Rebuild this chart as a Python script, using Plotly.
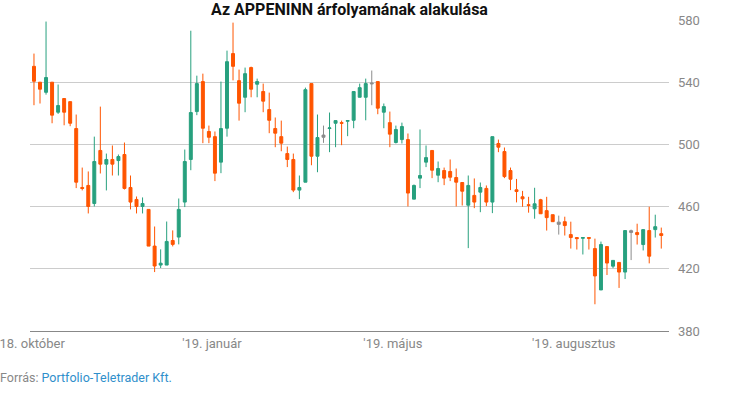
import plotly.graph_objects as go

# Candle data (one candle per period, in order)
open_ = [550.2, 540.0, 533.5, 540.0, 520.7, 529.5, 527.5, 510.2, 472.3, 473.6,
         462.0, 496.1, 487.3, 490.3, 489.6, 493.5, 472.3, 464.6, 460.1, 458.2,
         434.6, 422.4, 422.4, 438.2, 440.4, 462.9, 490.3, 521.1, 540.4, 508.3,
         505.0, 488.6, 510.4, 558.4, 541.0, 530.3, 549.4, 538.7, 534.0, 522.4,
         510.2, 505.0, 494.1, 490.3, 470.6, 475.7, 539.1, 492.4, 506.0, 510.2,
         513.6, 514.0, 514.9, 515.5, 530.3, 530.3, 539.5, 540.4, 520.7, 514.0,
         501.2, 503.1, 503.1, 464.8, 478.3, 488.6, 496.1, 480.2, 483.2, 482.6,
         478.7, 475.5, 460.9, 467.2, 469.3, 471.7, 462.9, 500.6, 495.4, 483.2,
         470.8, 466.3, 461.2, 458.6, 464.4, 457.4, 454.8, 450.0, 450.3, 442.0,
         440.1, 439.6, 440.1, 433.0, 406.4, 434.3, 421.7, 424.1, 417.9, 444.5,
         443.3, 435.6, 444.6, 445.2, 442.6]
high = [558.4, 540.0, 579.0, 540.0, 538.5, 529.5, 527.5, 519.2, 485.1, 482.6,
        505.0, 524.3, 494.1, 499.3, 493.5, 501.2, 480.0, 466.5, 465.9, 458.2,
        447.2, 432.5, 450.4, 444.7, 465.2, 496.7, 573.1, 544.2, 545.5, 512.1,
        508.3, 540.4, 560.3, 578.3, 548.1, 549.4, 550.0, 542.3, 539.1, 533.3,
        517.3, 515.3, 498.6, 494.1, 480.0, 536.5, 539.1, 519.2, 512.1, 520.5,
        515.3, 515.3, 515.3, 534.0, 539.1, 542.3, 547.5, 540.4, 526.3, 521.1,
        512.1, 514.0, 507.0, 474.2, 509.6, 499.3, 496.1, 489.0, 485.1, 490.3,
        484.5, 475.5, 480.0, 478.1, 475.5, 473.6, 505.0, 503.1, 498.0, 485.1,
        477.8, 470.1, 466.3, 472.1, 465.0, 466.3, 454.8, 454.2, 453.5, 450.3,
        440.1, 440.1, 440.1, 439.4, 437.5, 434.3, 425.4, 424.1, 444.6, 445.2,
        449.0, 445.2, 459.9, 454.8, 446.5]
low = [525.2, 526.3, 532.0, 513.6, 519.6, 512.3, 511.7, 471.9, 470.4, 455.6,
       460.1, 481.3, 470.4, 480.0, 480.0, 471.0, 458.2, 455.6, 455.6, 434.6,
       417.9, 420.5, 422.4, 434.4, 435.7, 459.7, 483.4, 518.8, 500.8, 500.8,
       476.4, 481.5, 505.0, 541.2, 515.3, 520.7, 530.3, 530.3, 520.7, 507.2,
       498.2, 495.6, 485.4, 469.3, 464.8, 475.7, 486.6, 482.1, 501.0, 495.0,
       498.2, 499.5, 505.3, 510.4, 530.3, 515.5, 525.2, 519.4, 510.4, 498.2,
       500.6, 500.6, 460.1, 464.8, 471.9, 485.4, 478.3, 475.7, 473.8, 476.4,
       460.1, 460.7, 433.3, 459.0, 456.4, 460.3, 455.8, 495.0, 478.3, 470.6,
       462.7, 459.9, 456.1, 452.2, 455.4, 444.6, 450.3, 442.0, 441.4, 433.0,
       432.4, 429.2, 432.4, 397.2, 406.4, 416.0, 420.4, 407.7, 413.4, 425.6,
       435.6, 431.8, 423.5, 440.1, 433.0]
close = [540.6, 535.5, 543.0, 518.8, 525.0, 520.7, 513.6, 475.7, 471.7, 460.1,
         489.0, 487.3, 490.3, 487.3, 492.2, 471.7, 462.9, 460.1, 462.0, 434.6,
         421.8, 423.6, 437.6, 435.7, 458.2, 489.0, 520.5, 539.1, 510.4, 504.6,
         481.5, 510.2, 553.2, 550.2, 526.5, 545.5, 535.5, 540.4, 527.8, 515.5,
         507.2, 500.8, 490.3, 470.6, 472.3, 535.2, 492.4, 504.4, 504.6, 510.6,
         515.3, 513.6, 515.3, 534.0, 536.5, 539.1, 539.0, 523.3, 524.3, 506.6,
         509.6, 511.5, 468.7, 473.6, 480.0, 491.5, 483.4, 484.5, 478.3, 478.9,
         475.7, 469.9, 473.6, 462.9, 472.3, 462.9, 505.0, 498.2, 479.3, 477.6,
         469.7, 465.0, 460.8, 461.8, 455.4, 452.9, 450.3, 448.6, 447.8, 440.1,
         439.4, 440.1, 439.6, 415.4, 435.6, 423.7, 425.4, 417.9, 444.6, 443.4,
         442.0, 445.2, 428.1, 447.1, 441.4]
# candles drawn in grey (unchanged)
neutral = [48, 56, 87, 99]

tick_pos = [-0.3, 29.5, 59.5, 89.5]
tick_text = ["18. október", "'19. január", "'19. május", "'19. augusztus"]
y_ticks = [380, 420, 460, 500, 540, 580]

GREEN = "#27a07e"
ORANGE = "#ff5500"
GREY = "#8c8c8c"

idx = list(range(len(open_)))
main = [i for i in idx if i not in neutral]

def pick(arr, ids):
    return [arr[i] for i in ids]

fig = go.Figure()
fig.add_trace(go.Candlestick(
    x=main, open=pick(open_, main), high=pick(high, main),
    low=pick(low, main), close=pick(close, main),
    increasing=dict(line=dict(color=GREEN, width=1), fillcolor=GREEN),
    decreasing=dict(line=dict(color=ORANGE, width=1), fillcolor=ORANGE),
    whiskerwidth=0, showlegend=False))
fig.add_trace(go.Candlestick(
    x=neutral, open=pick(open_, neutral), high=pick(high, neutral),
    low=pick(low, neutral), close=pick(close, neutral),
    increasing=dict(line=dict(color=GREY, width=1), fillcolor=GREY),
    decreasing=dict(line=dict(color=GREY, width=1), fillcolor=GREY),
    whiskerwidth=0, showlegend=False))

fig.update_layout(
    width=730, height=410,
    margin=dict(l=30, r=61, t=20, b=79),
    paper_bgcolor="white", plot_bgcolor="white",
    font=dict(family="Roboto", color="#888888", size=13),
    title=dict(text="<b>Az APPENINN árfolyamának alakulása</b>",
               font=dict(family="Roboto", size=16, color="#111111"),
               x=0.5, xref="paper", xanchor="center",
               y=1 - 9.5 / 410, yref="container", yanchor="middle"),
    xaxis=dict(range=[-0.66, 105.28], rangeslider=dict(visible=False),
               showgrid=False, zeroline=False, automargin=False,
               tickmode="array", tickvals=tick_pos, ticktext=tick_text,
               ticklabeloverflow="allow",
               ticks="", showline=True, linecolor="#888888", linewidth=1,
               tickfont=dict(size=13, color="#888888")),
    yaxis=dict(range=[380, 580], side="right", tickvals=y_ticks,
               showgrid=True, gridcolor="#cccccc", gridwidth=1,
               zeroline=False, ticks="", ticklabelstandoff=8, automargin=False,
               tickfont=dict(size=13, color="#888888")),
    annotations=[dict(
        text="Forrás: <span style='color:#2f8fcb'>Portfolio-Teletrader Kft.</span>",
        xref="paper", yref="paper", x=-32 / 639, y=-46 / 311,
        xanchor="left", yanchor="middle", showarrow=False,
        font=dict(family="Roboto", size=12.5, color="#888888"))],
)

fig.write_html("out.html", config={"displayModeBar": False},
               post_script="document.body.style.margin='0';")
